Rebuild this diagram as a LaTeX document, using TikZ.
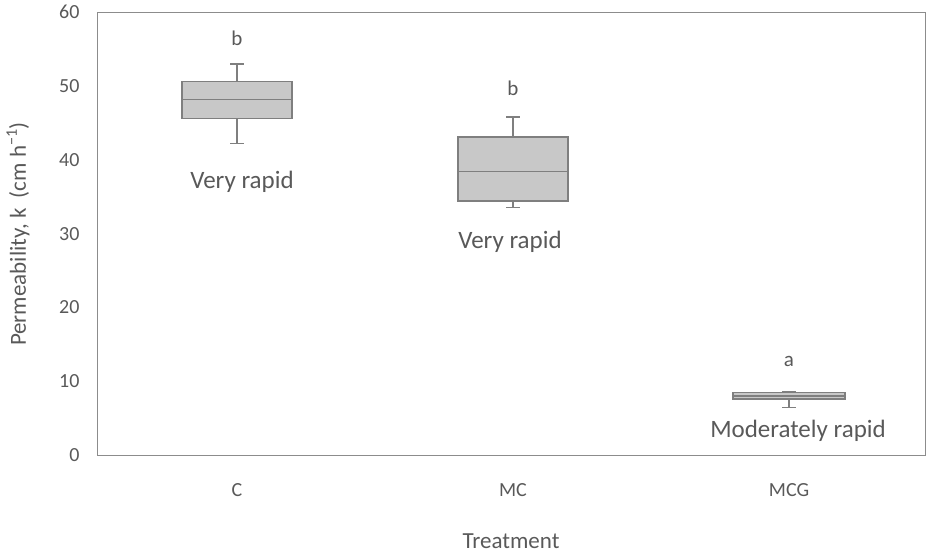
\documentclass[tikz,border=0pt]{standalone}
\usepackage{fontspec}
\setmainfont{Carlito}
\definecolor{txt}{HTML}{595959}
\definecolor{boxf}{HTML}{C8C8C8}
\definecolor{boxd}{HTML}{7F7F7F}
\begin{document}
\begin{tikzpicture}[x=1pt,y=-1pt,
  bx/.style={draw=boxd,fill=boxf,line width=1.3pt},
  wk/.style={draw=boxd,line width=1.3pt},
  lab/.style={text=txt,font=\fontsize{21}{23}\selectfont},
  tick/.style={text=txt,font=\fontsize{20}{22}\selectfont}]
\useasboundingbox (0,0) rectangle (931,553);
\draw[draw=black!45,line width=0.8pt] (97,12) rectangle (925,455);
\foreach \v in {0,10,...,60}{\node[tick,anchor=east] (t\v) at (83,{455-7.38*\v}) {\v};}
\def\bp#1#2#3#4#5#6#7{%
  \draw[wk] (#1,{455-7.38*#3}) -- (#1,{455-7.38*#7}) (#1-7,{455-7.38*#7}) -- (#1+7,{455-7.38*#7});
  \draw[wk] (#1,{455-7.38*#3}) -- (#1,{455-7.38*#4}) (#1-7,{455-7.38*#3}) -- (#1+7,{455-7.38*#3});
  \draw[bx] (#1-#2,{455-7.38*#4}) rectangle (#1+#2,{455-7.38*#6});
  \draw[wk] (#1-#2,{455-7.38*#5}) -- (#1+#2,{455-7.38*#5});}
\bp{237}{55}{42.2}{45.6}{48.2}{50.6}{53}
\bp{513}{55}{33.5}{34.4}{38.4}{43.1}{45.8}
\bp{789}{56}{6.4}{7.6}{8.0}{8.5}{8.6}
\node[lab] (lb1) at (237,38) {b};
\node[lab] (lb2) at (513,88) {b};
\node[lab] (lb3) at (789,361) {a};
\node[lab,font=\fontsize{25}{27}\selectfont] (v1) at (242,182) {Very rapid};
\node[lab,font=\fontsize{25}{27}\selectfont] (v2) at (510,242) {Very rapid};
\node[lab,font=\fontsize{25}{27}\selectfont] (v3) at (798,431) {Moderately rapid};
\node[tick] (xc) at (237,490) {C};
\node[tick] (xmc) at (513,490) {MC};
\node[tick] (xmcg) at (789,490) {MCG};
\node[lab,font=\fontsize{23}{25}\selectfont] (xt) at (511,541) {Treatment};
\node[lab,font=\fontsize{23}{25}\selectfont,rotate=90] (yt) at (18,234) {Permeability, k\ \ (cm h\textsuperscript{−1})};
\end{tikzpicture}
\end{document}
